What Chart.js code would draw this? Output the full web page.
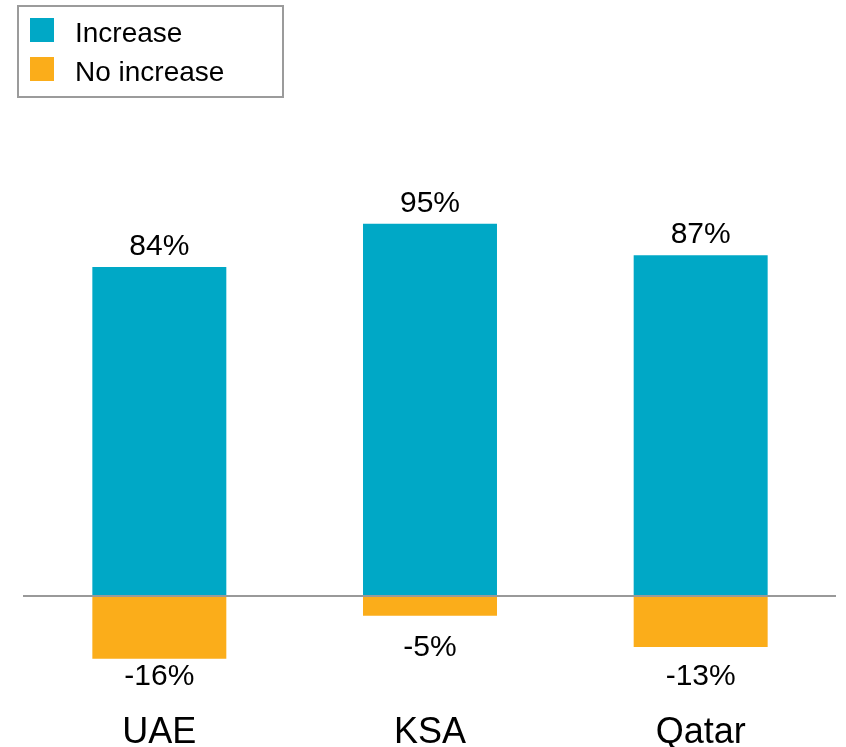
<!DOCTYPE html>
<html>
<head>
<meta charset="utf-8">
<script src="https://cdn.jsdelivr.net/npm/chart.js@4"></script>
<style>
  html, body { margin: 0; padding: 0; background: #fff; }
  #wrap { width: 846px; height: 747px; }
</style>
</head>
<body>
<div id="wrap"><canvas id="chart" width="846" height="747"></canvas></div>
<script>
const countries = ['UAE', 'KSA', 'Qatar'];
const increase = [84, 95, 87];
const noIncrease = [-16, -5, -13];

const BLUE = '#00a8c6';
const ORANGE = '#fbad1a';
const FONT = '"Liberation Sans", Arial, sans-serif';

// boxed legend in the top-left corner
const boxLegend = {
  id: 'boxLegend',
  afterDraw(chart) {
    const ctx = chart.ctx;
    ctx.save();
    ctx.strokeStyle = '#9b9b9b';
    ctx.lineWidth = 2;
    ctx.strokeRect(18, 6, 265, 91);
    ctx.font = '28px ' + FONT;
    ctx.textBaseline = 'alphabetic';
    ctx.textAlign = 'left';
    chart.data.datasets.forEach((ds, i) => {
      const top = 18 + i * 39;
      ctx.fillStyle = ds.backgroundColor;
      ctx.fillRect(30, top, 24, 24);
      ctx.fillStyle = '#000';
      ctx.fillText(ds.label, 75, top + 24);
    });
    ctx.restore();
  }
};

// zero line and value labels
const valueLabels = {
  id: 'valueLabels',
  afterDatasetsDraw(chart) {
    const ctx = chart.ctx;
    const y0 = chart.scales.y.getPixelForValue(0);
    const area = chart.chartArea;
    ctx.save();
    ctx.strokeStyle = '#999';
    ctx.lineWidth = 2;
    ctx.beginPath();
    ctx.moveTo(area.left - 1, y0);
    ctx.lineTo(area.right, y0);
    ctx.stroke();

    ctx.font = '30px ' + FONT;
    ctx.fillStyle = '#000';
    ctx.textAlign = 'center';
    ctx.textBaseline = 'alphabetic';
    chart.data.datasets.forEach((ds, di) => {
      chart.getDatasetMeta(di).data.forEach((bar, i) => {
        const v = ds.data[i];
        const text = v + '%';
        if (v >= 0) {
          ctx.fillText(text, bar.x, bar.y - 12);
        } else {
          ctx.fillText(text, bar.x, Math.min(bar.y + 40, area.bottom - 9));
        }
      });
    });
    ctx.restore();
  }
};

new Chart(document.getElementById('chart'), {
  type: 'bar',
  data: {
    labels: countries,
    datasets: [
      { label: 'Increase', data: increase, backgroundColor: BLUE },
      { label: 'No increase', data: noIncrease, backgroundColor: ORANGE }
    ]
  },
  options: {
    responsive: false,
    animation: false,
    layout: { padding: { top: 165, left: 24, right: 10, bottom: 0 } },
    datasets: {
      bar: { categoryPercentage: 1, barPercentage: 0.495, borderWidth: 0 }
    },
    scales: {
      x: {
        stacked: true,
        grid: { display: false, drawTicks: false },
        border: { display: false },
        ticks: { color: '#000', padding: 17, font: { size: 36, family: FONT } },
        afterFit(scale) { scale.height = 53; }
      },
      y: {
        stacked: true,
        display: false,
        min: -25,
        max: 110
      }
    },
    plugins: {
      legend: { display: false },
      tooltip: { enabled: false }
    }
  },
  plugins: [boxLegend, valueLabels]
});
</script>
</body>
</html>
